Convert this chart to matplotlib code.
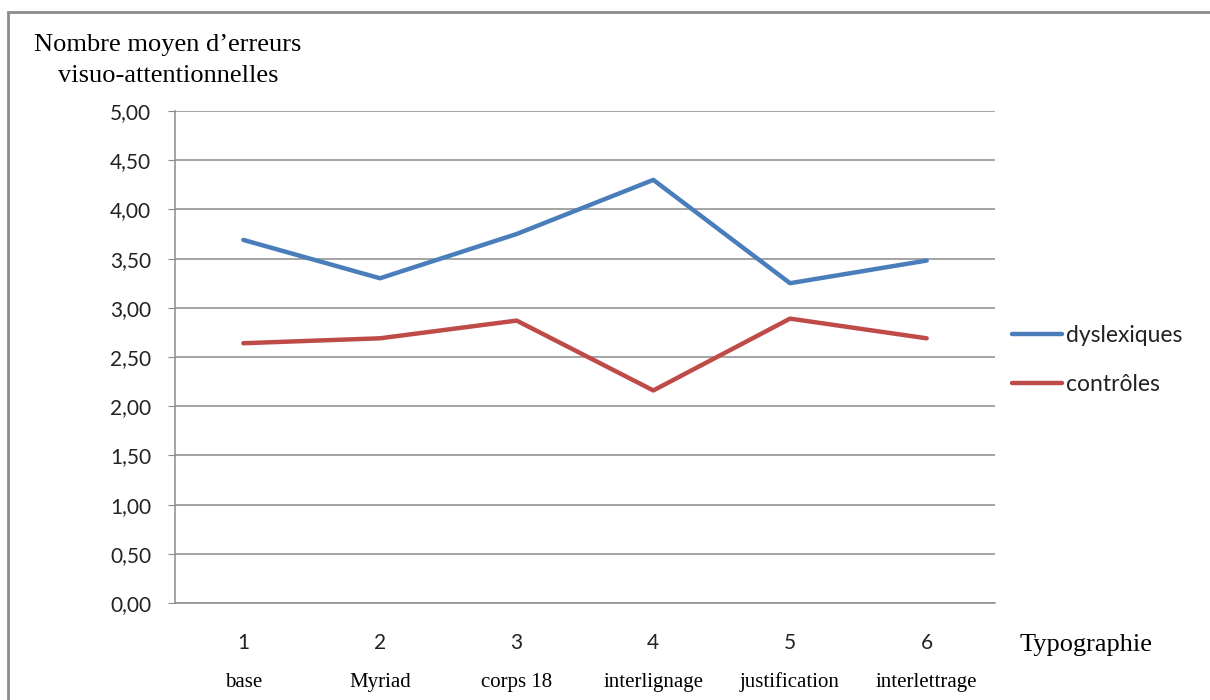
import numpy as np
import matplotlib.pyplot as plt
from matplotlib.patches import Rectangle

# donnees
categories = ["1", "2", "3", "4", "5", "6"]
noms = ["base", "Myriad", "corps 18", "interlignage", "justification", "interlettrage"]
dyslexiques = [3.69, 3.30, 3.75, 4.30, 3.25, 3.48]
controles = [2.64, 2.69, 2.87, 2.16, 2.89, 2.69]
yticks = [0, 0.5, 1, 1.5, 2, 2.5, 3, 3.5, 4, 4.5, 5]

sans = ["Lato", "DejaVu Sans"]
serif = ["Liberation Serif", "DejaVu Serif"]

fig = plt.figure(figsize=(12.1, 7.0), dpi=100)
ax = fig.add_axes([175 / 1210, 97 / 700, 820 / 1210, 492 / 700])

x = np.arange(1, len(categories) + 1)
ax.plot(x, dyslexiques, color="#4a7ebb", lw=3.2, label="dyslexiques", solid_capstyle="round")
ax.plot(x, controles, color="#be4b48", lw=3.2, label="contrôles", solid_capstyle="round")

ax.set_xlim(0.5, 6.5)
ax.set_ylim(0, 5)
ax.set_yticks(yticks)
ax.set_yticklabels([f"{v:.2f}".replace(".", ",") for v in yticks], fontfamily=sans, fontsize=15,
                   color="#222222")
ax.yaxis.grid(True, color="#8c8c8c", lw=1.1)
ax.set_axisbelow(True)
ax.tick_params(axis="y", length=5, color="#8c8c8c", pad=12)
ax.set_xticks(x)
ax.set_xticklabels([])
ax.tick_params(axis="x", length=0)
for s in ["top", "right"]:
    ax.spines[s].set_visible(False)
ax.spines["left"].set_color("#8c8c8c")
ax.spines["bottom"].set_color("#8c8c8c")
ax.spines["left"].set_linewidth(1.1)
ax.spines["bottom"].set_linewidth(1.1)

# etiquettes des categories
for xi, c, n in zip(x, categories, noms):
    ax.annotate(c, (xi, 0), xytext=(0, -29), textcoords="offset points", ha="center",
                va="center", fontfamily=sans, fontsize=15, color="#222222", annotation_clip=False)
    ax.annotate(n, (xi, 0), xytext=(0, -57), textcoords="offset points", ha="center",
                va="center", fontfamily=serif, fontsize=15, annotation_clip=False)

fig.text(1020 / 1210, 1 - 645 / 700, "Typographie", fontfamily=serif, fontsize=19, va="center")
fig.text(168 / 1210, 1 - 45 / 700, "Nombre moyen d\u2019erreurs", fontfamily=serif, fontsize=19,
         va="center", ha="center")
fig.text(168 / 1210, 1 - 76 / 700, "visuo-attentionnelles", fontfamily=serif, fontsize=19,
         va="center", ha="center")

leg = fig.legend(loc="center left", bbox_to_anchor=(1012 / 1210, 1 - 360 / 700), frameon=False,
                 prop={"family": sans, "size": 16.5}, handlelength=2.2, handletextpad=0.15,
                 labelspacing=1.25, borderpad=0, borderaxespad=0)
for t in leg.get_texts():
    t.set_color("#222222")

# cadre exterieur
fig.patches.append(Rectangle((8 / 1210, -0.01), 1.1, 1 - 12 / 700 + 0.01, transform=fig.transFigure,
                             fill=False, edgecolor="#8c8c8c", lw=2))

fig.savefig("out.png", dpi=100)
